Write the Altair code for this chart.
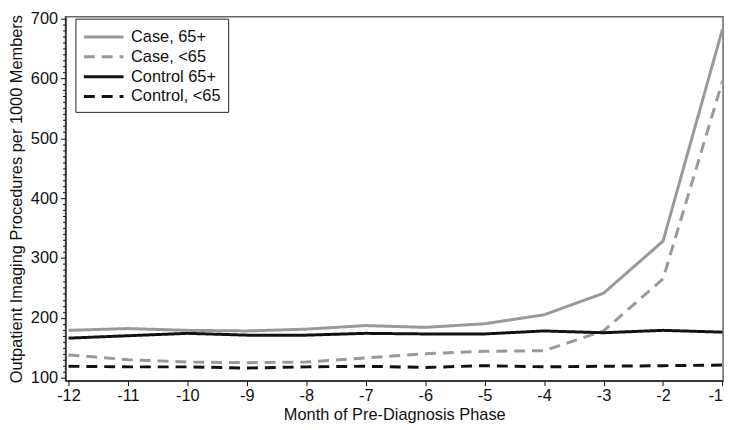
import altair as alt
import pandas as pd

months = [-12, -11, -10, -9, -8, -7, -6, -5, -4, -3, -2, -1]
case_65plus = [179, 182, 179, 178, 181, 187, 184, 190, 205, 241, 328, 682]
case_under65 = [138, 130, 126, 125, 126, 133, 140, 144, 145, 178, 265, 595]
control_65plus = [166, 170, 174, 171, 171, 174, 173, 173, 178, 175, 179, 176]
control_under65 = [119, 118, 118, 116, 118, 119, 117, 120, 118, 119, 120, 121]

series_names = ["Case, 65+", "Case, <65", "Control 65+", "Control, <65"]
series_values = [case_65plus, case_under65, control_65plus, control_under65]
series_colors = ["#999999", "#999999", "#111111", "#111111"]
series_dashes = [[1, 0], [11, 7], [1, 0], [11, 7]]

rows = []
for name, vals in zip(series_names, series_values):
    for m, v in zip(months, vals):
        rows.append({"month": m, "value": v, "series": name})
df = pd.DataFrame(rows)

FONT = "Liberation Sans"

legend = alt.Legend(
    title=None,
    orient="none",
    legendX=10,
    legendY=2,
    symbolType="M-1,0H3",
    symbolSize=400,
    symbolStrokeWidth=3,
    labelFont=FONT,
    labelFontSize=16.5,
    labelColor="#111",
    strokeColor="#222",
    padding=7,
    rowPadding=0,
    labelOffset=26,
)

chart = alt.Chart(df).mark_line(strokeWidth=3).encode(
    x=alt.X(
        "month:Q",
        scale=alt.Scale(domain=[-12.05, -0.99], nice=False, zero=False),
        axis=alt.Axis(
            values=months,
            labelExpr="'' + datum.value",
            title="Month of Pre-Diagnosis Phase",
            grid=False,
            tickSize=5,
            labelPadding=2,
            titlePadding=3,
        ),
    ),
    y=alt.Y(
        "value:Q",
        scale=alt.Scale(domain=[95, 703], nice=False, zero=False),
        axis=alt.Axis(
            values=list(range(100, 701, 10)),
            labelExpr="datum.value % 100 === 0 ? '' + datum.value : ''",
            tickSize={"condition": {"test": "datum.value % 100 === 0", "value": 5}, "value": 3},
            title="Outpatient Imaging Procedures per 1000 Members",
            grid=False,
            labelPadding=3,
            titlePadding=6,
        ),
    ),
    color=alt.Color(
        "series:N",
        scale=alt.Scale(domain=series_names, range=series_colors),
        sort=series_names,
        legend=legend,
    ),
    strokeDash=alt.StrokeDash(
        "series:N",
        scale=alt.Scale(domain=series_names, range=series_dashes),
        sort=series_names,
        legend=legend,
    ),
).properties(
    width=663,
    height=367,
    padding={"left": 0, "top": 0, "right": 0, "bottom": 0},
).configure_view(
    stroke="#666666",
    strokeWidth=1.5,
).configure_axis(
    labelFont=FONT,
    titleFont=FONT,
    labelFontSize=16.5,
    titleFontSize=16.5,
    titleFontWeight="normal",
    labelColor="#111",
    titleColor="#111",
    domainColor="#111",
    tickColor="#111",
    domainWidth=1.2,
    tickWidth=1,
)

chart.save("out.html", embed_options={"renderer": "svg", "actions": False})
